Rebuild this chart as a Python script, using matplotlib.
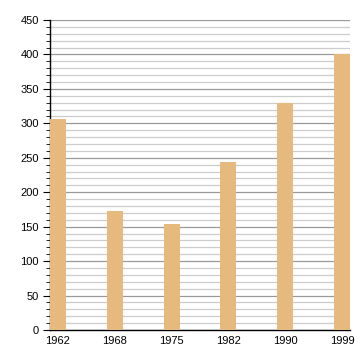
import matplotlib
matplotlib.use("Agg")
import matplotlib.pyplot as plt
from matplotlib.ticker import MultipleLocator

years = ["1962", "1968", "1975", "1982", "1990", "1999"]
population = [307, 173, 154, 244, 329, 401]

plt.rcParams["font.family"] = ["Liberation Sans", "DejaVu Sans"]

fig = plt.figure(figsize=(3.6, 3.6), dpi=100)
ax = fig.add_axes([50 / 360, 30 / 360, 300 / 360, 310 / 360])

w = 0.28
x = range(len(years))
ax.bar(x, population, width=w, color="#E6B97F", zorder=3)

ax.set_xlim(-w / 2, len(years) - 1 + w / 2)
ax.set_ylim(0, 450)
ax.set_xticks(list(x))
ax.set_xticklabels(years)
ax.yaxis.set_major_locator(MultipleLocator(50))
ax.yaxis.set_minor_locator(MultipleLocator(10))
ax.grid(axis="y", which="major", color="#999999", lw=0.9, zorder=1)
ax.grid(axis="y", which="minor", color="#cccccc", lw=0.9, zorder=1)

for s in ("top", "right"):
    ax.spines[s].set_visible(False)
ax.spines["left"].set_linewidth(1)
ax.spines["bottom"].set_linewidth(1)
ax.tick_params(axis="x", length=0, pad=4, labelsize=8)
ax.tick_params(axis="y", which="major", length=5, labelsize=8, pad=3)
ax.tick_params(axis="y", which="minor", length=3)

fig.savefig("out.png", dpi=100)
